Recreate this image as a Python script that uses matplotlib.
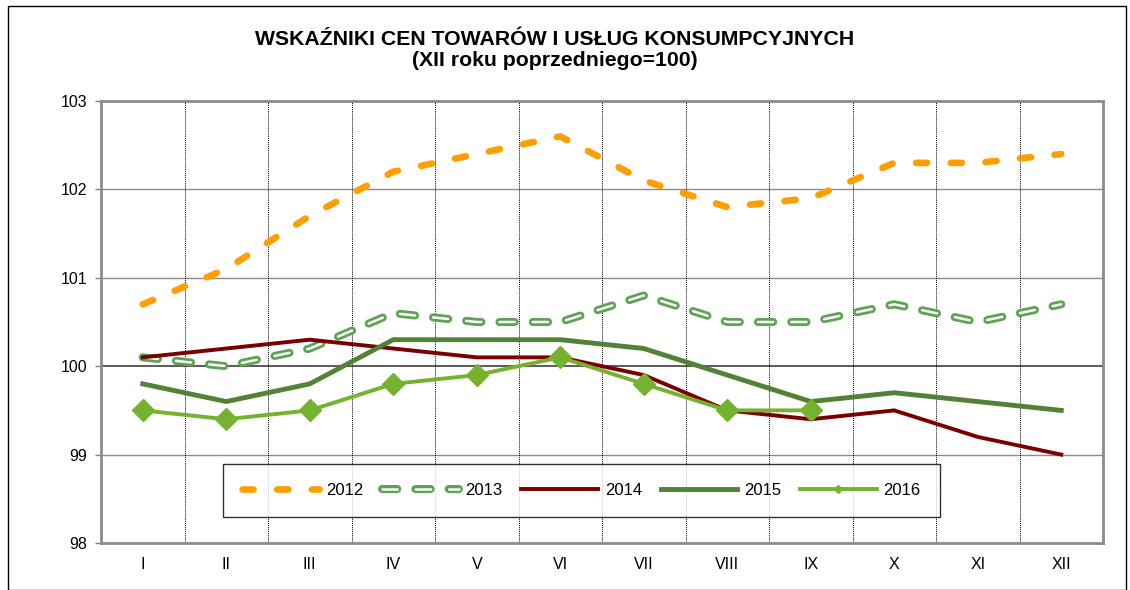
import matplotlib
matplotlib.use("Agg")
import matplotlib.pyplot as plt
from matplotlib.patches import Rectangle
from matplotlib.lines import Line2D

plt.rcParams['font.family'] = ['Liberation Sans', 'DejaVu Sans']

months = ['I', 'II', 'III', 'IV', 'V', 'VI', 'VII', 'VIII', 'IX', 'X', 'XI', 'XII']
y2012 = [100.7, 101.1, 101.7, 102.2, 102.4, 102.6, 102.1, 101.8, 101.9, 102.3, 102.3, 102.4]
y2013 = [100.1, 100.0, 100.2, 100.6, 100.5, 100.5, 100.8, 100.5, 100.5, 100.7, 100.5, 100.7]
y2014 = [100.1, 100.2, 100.3, 100.2, 100.1, 100.1, 99.9, 99.5, 99.4, 99.5, 99.2, 99.0]
y2015 = [99.8, 99.6, 99.8, 100.3, 100.3, 100.3, 100.2, 99.9, 99.6, 99.7, 99.6, 99.5]
y2016 = [99.5, 99.4, 99.5, 99.8, 99.9, 100.1, 99.8, 99.5, 99.5]

fig = plt.figure(figsize=(11.3, 5.9), dpi=100)
ax = fig.add_axes([101 / 1130, 1 - 543 / 590, 1002 / 1130, 442 / 590])

x = list(range(len(months)))

# line styles (dash lengths in points -> divided by lw)
LW12 = 4.8
DASH12 = (0, (8 / LW12, 17 / LW12))
LW13_OUT, LW13_IN = 5.8, 1.8
DASH13_OUT = (0, (11 / LW13_OUT, 13 / LW13_OUT))
DASH13_IN = (0, (11 / LW13_IN, 13 / LW13_IN))

# horizontal grid
for v in [99, 101, 102]:
    ax.axhline(v, color='#8c8c8c', lw=1, zorder=1)
ax.axhline(100, color='#404040', lw=1.2, zorder=1)
# vertical dotted separators between months
for b in range(1, 12):
    ax.axvline(b - 0.5, color='black', lw=0.7, ls=(0, (1, 1)), zorder=1)

ax.plot(x, y2012, color='#FF9E00', lw=LW12, ls=DASH12,
        dash_capstyle='round', zorder=3)
# hollow dashed line: thick green with white inner
ax.plot(x, y2013, color='#5EA353', lw=LW13_OUT, ls=DASH13_OUT,
        dash_capstyle='round', zorder=3)
ax.plot(x, y2013, color='white', lw=LW13_IN, ls=DASH13_IN,
        dash_capstyle='round', zorder=3.1)
ax.plot(x, y2014, color='#7A0000', lw=2.8, zorder=4)
ax.plot(x, y2015, color='#548235', lw=3.5, zorder=4)
ax.plot(x[:len(y2016)], y2016, color='#76B12F', lw=2.8, marker='D',
        ms=11, zorder=5)

ax.set_xlim(-0.5, 11.5)
ax.set_ylim(98, 103)
ax.set_yticks([98, 99, 100, 101, 102, 103])
ax.set_xticks(x)
ax.set_xticklabels(months)
ax.tick_params(axis='x', length=0, pad=10, labelsize=11.5)
ax.tick_params(axis='y', length=4, width=1, color='#808080', labelsize=11.5, pad=6)
for s in ax.spines.values():
    s.set_color('#8c8c8c')
    s.set_linewidth(2)

fig.text(555 / 1130, 1 - 50 / 590,
         'WSKAŹNIKI CEN TOWARÓW I USŁUG KONSUMPCYJNYCH\n(XII roku poprzedniego=100)',
         ha='center', va='center', fontsize=15.3, fontweight='bold',
         linespacing=1.12)

handles = [
    Line2D([], [], color='#FF9E00', lw=LW12, ls=DASH12, dash_capstyle='round'),
    (Line2D([], [], color='#5EA353', lw=LW13_OUT, ls=DASH13_OUT, dash_capstyle='round'),
     Line2D([], [], color='white', lw=LW13_IN, ls=DASH13_IN, dash_capstyle='round')),
    Line2D([], [], color='#7A0000', lw=2.8),
    Line2D([], [], color='#548235', lw=3.5),
    Line2D([], [], color='#76B12F', lw=2.8, marker='D', ms=4),
]
leg = ax.legend(handles, ['2012', '2013', '2014', '2015', '2016'], ncol=5,
                loc='center', bbox_to_anchor=(0.122, 0.063, 0.715, 0.113),
                mode='expand', frameon=True, fancybox=False, fontsize=12,
                handlelength=4.6, columnspacing=1.1, handletextpad=0.4,
                borderaxespad=0, borderpad=1.15)
leg.get_frame().set_edgecolor('black')
leg.get_frame().set_linewidth(1)
leg.set_zorder(6)

fig.patches.append(Rectangle((8 / 1130, 0), 1118 / 1130, 1 - 6 / 590,
                             transform=fig.transFigure, fill=False,
                             edgecolor='black', lw=1))

fig.savefig('out.png', dpi=100)
